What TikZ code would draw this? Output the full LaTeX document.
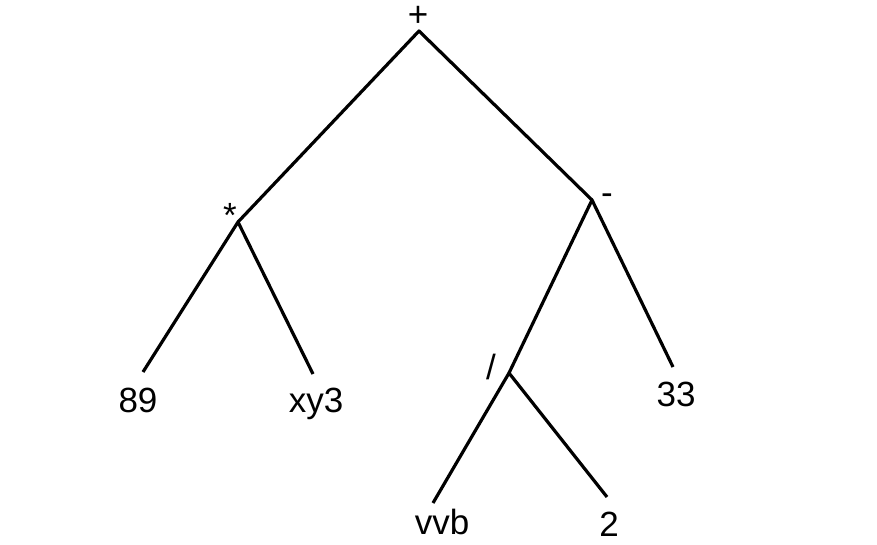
\documentclass[tikz,border=0pt]{standalone}
\usepackage{fontspec}
\setmainfont{Liberation Sans}

\begin{document}
\begin{tikzpicture}[x=1pt,y=-1pt,
    every node/.style={font=\fontsize{35}{40}\selectfont, inner sep=0pt},
    edge/.style={line width=3.2pt, line join=round}]
    \useasboundingbox (0,0) rectangle (877,545);

    % junctions
    \coordinate (plus) at (419,31);
    \coordinate (times) at (238,222);
    \coordinate (minus) at (592,200);
    \coordinate (div) at (509,373);
    \coordinate (e89) at (143,372);
    \coordinate (exy) at (313,374);
    \coordinate (e33) at (673,367);
    \coordinate (evvb) at (433,503);
    \coordinate (etwo) at (607,497);

    % labels
    \node (lplus) at (418,16) {+};
    \node (ltimes) at (230,215) {*};
    \node (lminus) at (607,199) {-};
    \node (ldiv) at (491,367) {/};
    \node (l89) at (138,400) {89};
    \node (lxy) at (316,404) {xy3};
    \node (l33) at (676,394) {33};
    \node (lvvb) at (442,522) {vvb};
    \node (ltwo) at (609,524) {2};

    \draw[edge] (times) -- (plus) -- (minus);
    \draw[edge] (e89) -- (times) -- (exy);
    \draw[edge] (div) -- (minus) -- (e33);
    \draw[edge] (evvb) -- (div) -- (etwo);
\end{tikzpicture}
\end{document}
